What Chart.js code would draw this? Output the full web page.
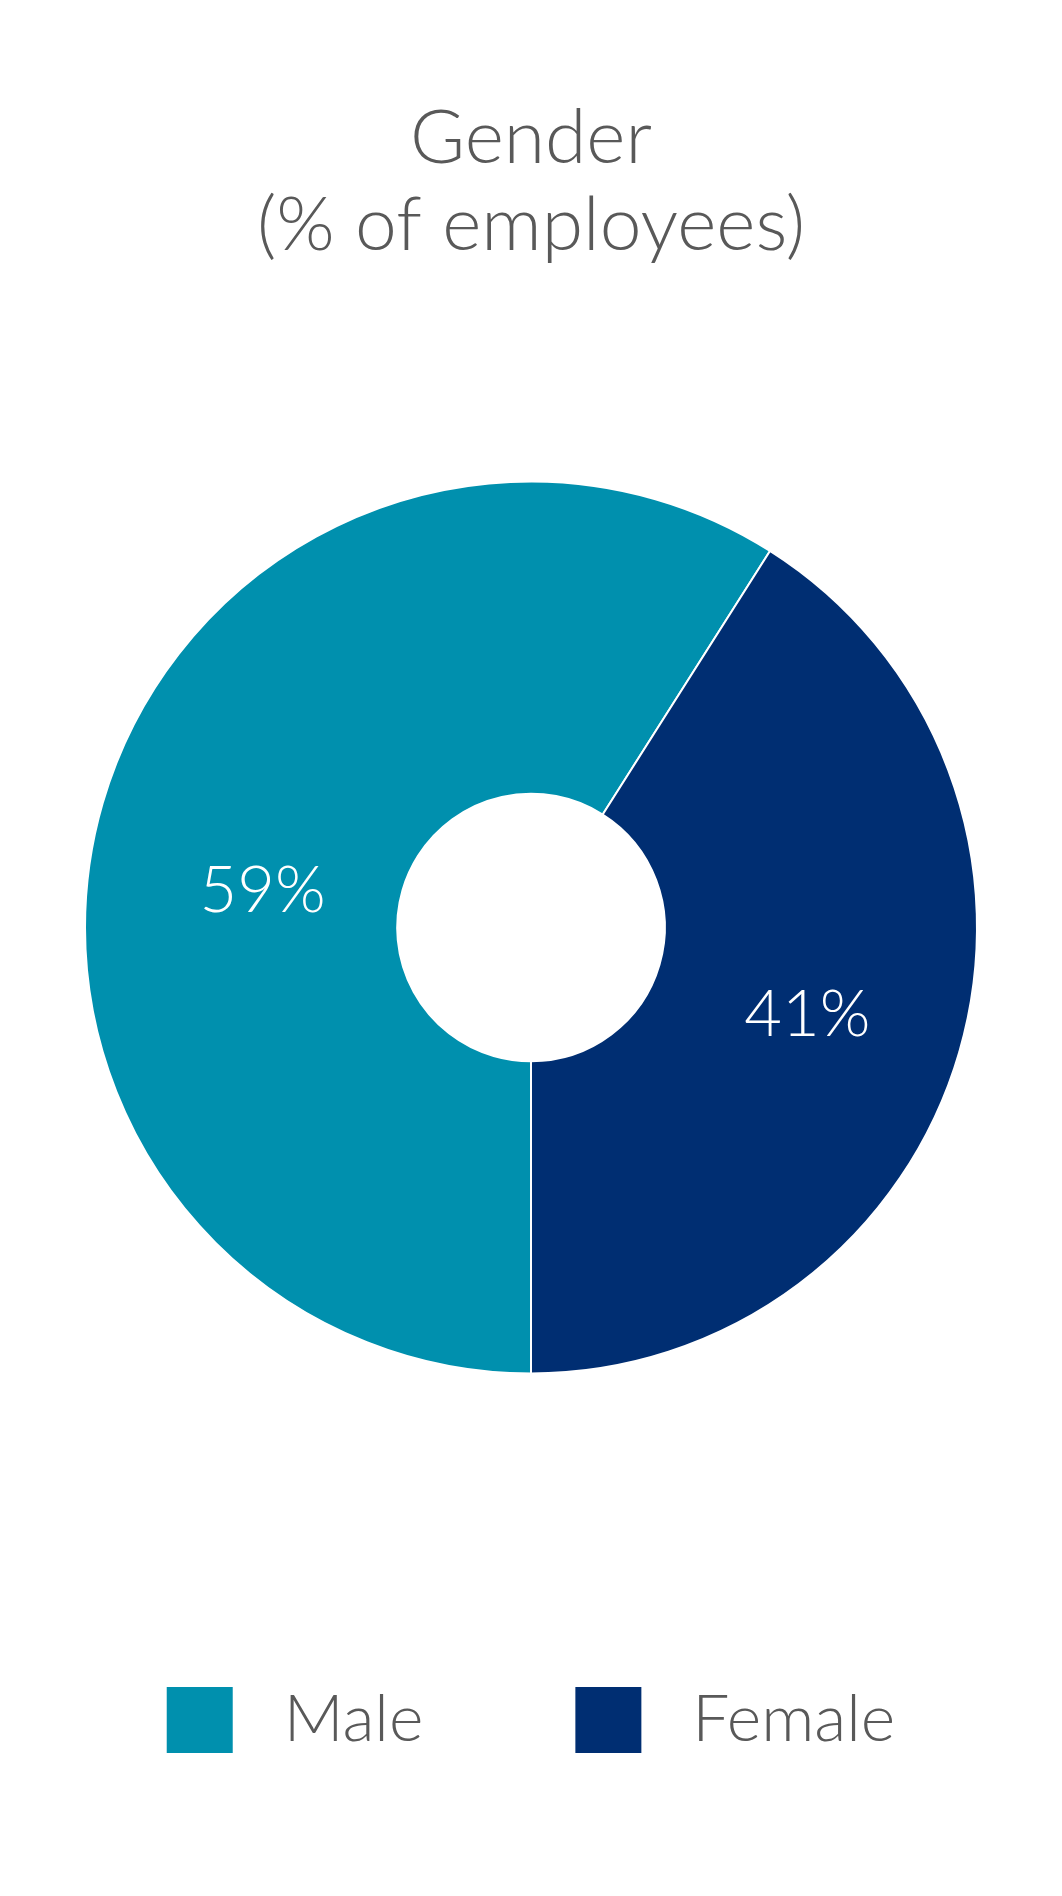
<!DOCTYPE html>
<html lang="en">

<head>
    <meta charset="UTF-8">
    <title>Gender</title>
    <script src="https://cdn.jsdelivr.net/npm/chart.js"></script>
    <style>
        html,
        body {
            margin: 0;
            padding: 0;
            background: #ffffff;
        }

        #wrap {
            width: 1062px;
            height: 1896px;
        }
    </style>
</head>

<body>
    <div id="wrap">
        <canvas id="mycanvas" width="1062" height="1896"></canvas>
    </div>

    <script>
        // chart data
        const categories = ['Male', 'Female'];
        const shares = [59, 41];
        const sliceColors = ['#0090ae', '#002e72'];
        const titleLines = ['Gender', '(% of employees)'];

        const fontFamily = 'Lato, "Open Sans", sans-serif';
        const textGrey = '#595959';

        // draws the % labels inside each slice (small nudge like the original)
        const sliceLabels = {
            id: 'sliceLabels',
            afterDatasetsDraw(chart, args, opts) {
                const ctx = chart.ctx;
                const meta = chart.getDatasetMeta(0);
                ctx.save();
                ctx.fillStyle = '#ffffff';
                ctx.font = '300 65px ' + fontFamily;
                ctx.textAlign = 'center';
                ctx.textBaseline = 'middle';
                meta.data.forEach((arc, i) => {
                    const pos = arc.tooltipPosition();
                    const nudge = opts.nudge[i] || [0, 0];
                    ctx.fillText(shares[i] + '%', pos.x + nudge[0], pos.y + nudge[1]);
                });
                ctx.restore();
            }
        };

        const ctx = document.getElementById('mycanvas').getContext('2d');

        new Chart(ctx, {
            type: 'doughnut',
            data: {
                labels: categories,
                datasets: [{
                    data: shares,
                    backgroundColor: sliceColors,
                    borderColor: '#ffffff',
                    borderWidth: 2,
                    radius: 446
                }]
            },
            options: {
                responsive: false,
                animation: false,
                cutout: '30%',
                rotation: 180,
                layout: {
                    padding: { left: 0, right: 0, top: 0, bottom: 133 }
                },
                plugins: {
                    tooltip: { enabled: false },
                    sliceLabels: { nudge: [[10, 44], [-2, 7]] },
                    title: {
                        display: true,
                        text: titleLines,
                        color: textGrey,
                        font: { family: fontFamily, size: 75, weight: '300', lineHeight: 1.16 },
                        padding: { top: 95, bottom: 51 }
                    },
                    legend: {
                        position: 'bottom',
                        labels: {
                            color: textGrey,
                            boxWidth: 66,
                            boxHeight: 66,
                            padding: 152,
                            font: { family: fontFamily, size: 66, weight: '300' },
                            generateLabels(chart) {
                                return categories.map((c, i) => ({
                                    text: ' ' + c,
                                    fillStyle: sliceColors[i],
                                    strokeStyle: sliceColors[i],
                                    lineWidth: 0,
                                    fontColor: textGrey,
                                    index: i
                                }));
                            }
                        }
                    }
                }
            },
            plugins: [sliceLabels]
        });
    </script>

</body>

</html>
